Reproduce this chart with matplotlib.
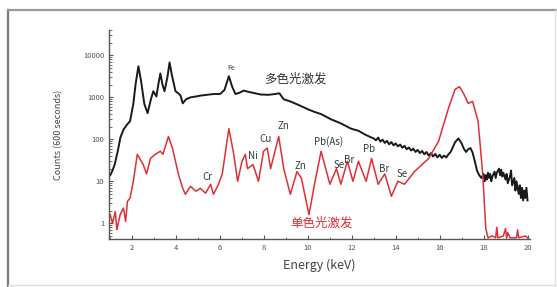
import matplotlib
matplotlib.use('Agg')
import matplotlib.pyplot as plt
from matplotlib.lines import Line2D
from matplotlib.ticker import LogLocator, NullFormatter, FixedLocator

plt.rcParams['font.family'] = ['Noto Sans CJK SC', 'DejaVu Sans']

# polychromatic excitation (black)
black_e = [1.0, 1.1, 1.2, 1.35, 1.46, 1.6, 1.75, 1.9, 2.05, 2.15, 2.28, 2.4, 2.55, 2.7, 2.85,
           2.96, 3.1, 3.2, 3.28, 3.38, 3.47, 3.6, 3.7, 3.8, 3.97, 4.1, 4.2, 4.3, 4.45, 4.65,
           4.9, 5.1, 5.4, 5.7, 6.0, 6.2, 6.4, 6.55, 6.7, 6.9, 7.07, 7.3, 7.6, 7.85, 8.2,
           8.5, 8.7, 8.9, 9.2, 9.6, 10.0, 10.3, 10.6, 11.05, 11.5, 11.96, 12.3, 12.6, 12.9,
           13.0, 13.1, 13.2, 13.3, 13.4, 13.5, 13.6, 13.7, 13.8, 13.9, 14.0, 14.1, 14.2, 14.3,
           14.4, 14.5, 14.6, 14.7, 14.8, 14.9, 15.0, 15.1, 15.2, 15.3, 15.4, 15.5, 15.6, 15.7,
           15.8, 15.9, 16.0, 16.1, 16.2, 16.3, 16.4,
           16.5, 16.6, 16.7, 16.85, 17.0, 17.1, 17.2, 17.3, 17.4, 17.5, 17.6, 17.7, 17.8,
           17.9, 18.0, 18.05, 18.1, 18.15, 18.2, 18.25, 18.3, 18.35, 18.4, 18.5, 18.55, 18.6,
           18.7, 18.75, 18.8, 18.85, 18.9, 19.0, 19.05, 19.1, 19.2, 19.25, 19.3, 19.4, 19.45,
           19.5, 19.6, 19.65, 19.7, 19.75, 19.8, 19.85, 19.9, 19.95, 20.0]
black_counts = [14, 18, 25, 55, 110, 170, 220, 270, 700, 2000, 5500, 2500, 700, 420, 900,
                1400, 1050, 2200, 3700, 2000, 1400, 3000, 6800, 3500, 1400, 1250, 1100, 720, 900, 1000,
                1050, 1100, 1150, 1200, 1200, 1500, 3200, 1800, 1200, 1300, 1450, 1350, 1250, 1170, 1150,
                1200, 1250, 900, 800, 650, 520, 450, 400, 300, 240, 180, 160, 130, 110,
                105, 95, 110, 88, 98, 82, 92, 76, 86, 72, 80, 68, 75, 63, 70, 58, 64, 54,
                60, 50, 56, 47, 53, 44, 50, 41, 47, 39, 45, 37, 43, 36, 41, 37, 44,
                50, 65, 85, 105, 80, 60, 50, 58, 62, 48, 30, 18, 14,
                12, 15, 10, 14, 11, 16, 12, 15, 10, 13, 17, 12, 16,
                20, 14, 19, 13, 16, 11, 15, 9, 13, 18, 8, 12, 6,
                10, 5, 8, 4, 7, 3.5, 6, 4, 7, 3.5]

# monochromatic excitation (red)
red_e = [1.0, 1.1, 1.23, 1.3, 1.45, 1.6, 1.7, 1.78, 1.9, 2.05, 2.23, 2.5, 2.65, 2.83, 3.05,
         3.28, 3.4, 3.65, 3.83, 4.1, 4.3, 4.42, 4.65, 4.9, 5.1, 5.34, 5.57, 5.7, 5.93, 6.1,
         6.4, 6.6, 6.8, 7.0, 7.15, 7.25, 7.5, 7.75, 7.98, 8.15, 8.3, 8.67, 8.9, 9.2, 9.5,
         9.7, 10.05, 10.3, 10.6, 11.0, 11.3, 11.5, 11.8, 12.05, 12.3, 12.65, 12.9, 13.2, 13.5,
         13.8, 14.1, 14.4, 14.85, 15.5, 15.95, 16.4, 16.7, 16.9, 17.1, 17.3, 17.5, 17.75, 17.96,
         18.1, 18.2, 18.4, 18.55, 18.6, 18.65, 18.9, 19.0, 19.05, 19.1, 19.2, 19.5, 19.55,
         19.6, 19.9, 20.0]
red_counts = [1.6, 1.0, 1.9, 0.7, 1.6, 2.3, 1.1, 3.3, 4, 10, 44, 25, 15, 35, 44,
              52, 44, 117, 62, 15, 6.8, 4.9, 7.6, 5.8, 6.8, 5.2, 8.5, 4.9, 8.5, 15,
              180, 52, 10, 30, 44, 20, 25, 10, 52, 62, 20, 117, 20, 4.9, 17,
              12, 1.6, 8.5, 52, 8.5, 20, 8.5, 30, 10, 30, 10, 35, 8.5, 15,
              4.4, 10, 8.5, 17, 35, 90, 550, 1550, 1800, 1200, 720, 800, 270, 15,
              0.75, 0.45, 0.5, 0.45, 0.8, 0.45, 0.5, 0.75, 0.45, 0.6, 0.45, 0.45, 0.7,
              0.45, 0.5, 0.45]

elem_labels = ['Cr', 'Ni', 'Cu', 'Zn', 'Zn', 'Pb(As)', 'Se', 'Br', 'Pb', 'Br', 'Se']
elem_e = [5.4, 7.5, 8.08, 8.9, 9.68, 10.95, 11.4, 11.87, 12.78, 13.47, 14.3]
elem_y = [13, 40, 100, 205, 23, 90, 25, 33, 58, 19.5, 15]

fig = plt.figure(figsize=(5.57, 2.87), dpi=100)
ax = fig.add_axes([0.196, 0.167, 0.755, 0.728])

ax.plot(black_e, black_counts, color='#1a1a1a', lw=1.4)
ax.plot(red_e, red_counts, color='#de3035', lw=1.1)

ax.set_yscale('log')
ax.set_xlim(0.95, 20.1)
ax.set_ylim(0.42, 40000)

ax.xaxis.set_major_locator(FixedLocator([2, 4, 6, 8, 10, 12, 14, 16, 18, 20]))
ax.xaxis.set_minor_locator(FixedLocator([1, 3, 5, 7, 9, 11, 13, 15, 17, 19]))
ax.yaxis.set_major_locator(FixedLocator([1, 10, 100, 1000, 10000]))
ax.yaxis.set_minor_locator(LogLocator(base=10, subs=range(2, 10)))
ax.yaxis.set_minor_formatter(NullFormatter())
ax.set_yticklabels(['1', '10', '100', '1000', '10000'])

for s in ['top', 'right']:
    ax.spines[s].set_visible(False)
for s in ['left', 'bottom']:
    ax.spines[s].set_color('#555555')
    ax.spines[s].set_linewidth(1.0)
ax.tick_params(axis='both', which='major', direction='in', length=3, width=0.8,
               labelsize=5.5, colors='#555555', labelcolor='#555555')
ax.tick_params(axis='both', which='minor', direction='in', length=1.8, width=0.6, colors='#555555')

ax.set_xlabel('Energy (keV)', fontsize=9, color='#444444', labelpad=5)
ax.set_ylabel('Counts (600 seconds)', fontsize=6.5, color='#444444', labelpad=14)

ax.text(6.48, 4900, 'Fe', fontsize=5, color='#333333', ha='center', va='center')
ax.text(7.99, 2800, '多色光激发', fontsize=9, color='#333333', ha='left', va='center')
ax.text(9.22, 1.0, '单色光激发', fontsize=9, color='#de3035', ha='left', va='center')
for lab, e, y in zip(elem_labels, elem_e, elem_y):
    ax.text(e, y, lab, fontsize=7, color='#2f3d3d', ha='center', va='center')

# outer frame: darker top/left, faint right/bottom
W, H = 557.0, 287.0
fig.lines.append(Line2D([8 / W, 8 / W], [0, 1 - 10 / H], transform=fig.transFigure,
                        color='#7a7a7a', lw=1.6))
fig.lines.append(Line2D([8 / W, 1], [1 - 10 / H, 1 - 10 / H], transform=fig.transFigure,
                        color='#9a9a9a', lw=1.6))
fig.lines.append(Line2D([555 / W, 555 / W], [2 / H, 1 - 10 / H], transform=fig.transFigure,
                        color='#e0e0e0', lw=1.0))
fig.lines.append(Line2D([8 / W, 555 / W], [2 / H, 2 / H], transform=fig.transFigure,
                        color='#e0e0e0', lw=1.0))

fig.savefig('out.png', dpi=100, facecolor='white')
